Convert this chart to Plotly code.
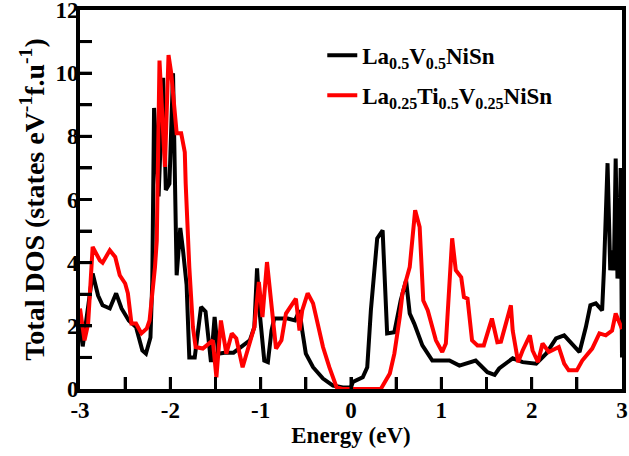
import plotly.graph_objects as go

# La0.5V0.5NiSn (black)
black_x = [-3.0, -2.97, -2.86, -2.8, -2.75, -2.67, -2.6, -2.54, -2.46, -2.38, -2.31, -2.27, -2.22, -2.2,
           -2.18, -2.13, -2.08, -2.05, -2.01, -1.97, -1.93, -1.89, -1.86, -1.82, -1.79, -1.73, -1.66,
           -1.61, -1.55, -1.51, -1.47, -1.4, -1.3, -1.2, -1.12, -1.07, -1.04, -1.01, -0.96, -0.92, -0.88,
           -0.85, -0.7, -0.62, -0.57, -0.54, -0.5, -0.42, -0.31, -0.2, -0.09, 0.0, 0.02, 0.13, 0.18, 0.22,
           0.26, 0.29, 0.35, 0.40, 0.48, 0.55, 0.61, 0.65, 0.70, 0.79, 0.90, 1.09, 1.2, 1.38, 1.51, 1.59,
           1.64, 1.79, 1.9, 2.05, 2.16, 2.27, 2.36, 2.53, 2.6, 2.65, 2.71, 2.78, 2.8, 2.84, 2.87, 2.89,
           2.91, 2.93, 2.95, 2.97, 2.985, 3.0]
black_y = [2.0, 1.35, 3.66, 2.96, 2.65, 2.55, 3.03, 2.55, 2.17, 1.96, 1.22, 1.12, 1.63, 3.4,
           8.9, 6.1, 9.85, 6.3, 6.5, 10.0, 3.6, 5.1, 4.4, 3.3, 1.0, 1.0, 2.6,
           2.45, 0.85, 2.28, 1.12, 1.15, 1.15, 1.35, 1.54, 1.96, 3.82, 2.39, 0.9, 0.85, 1.85,
           2.23, 2.23, 2.17, 2.49, 1.85, 1.12, 0.69, 0.33, 0.11, 0.05, 0.05, 0.22, 0.37, 0.69, 2.49,
           3.76, 4.77, 5.02, 1.76, 1.8, 2.8, 3.44, 2.39, 2.07, 1.38, 0.9, 0.9, 0.74, 0.9, 0.53, 0.45,
           0.65, 0.97, 0.85, 0.8, 1.12, 1.6, 1.7, 1.17, 1.96, 2.65, 2.71, 2.49, 3.76, 7.15, 3.76, 4.39,
           3.76, 7.3, 3.5, 3.8, 7.0, 1.0]

# La0.25Ti0.5V0.25NiSn (red)
red_x = [-3.0, -2.95, -2.91, -2.86, -2.78, -2.75, -2.67, -2.61, -2.56, -2.5, -2.47, -2.43, -2.38, -2.32,
         -2.26, -2.23, -2.17, -2.15, -2.12, -2.06, -2.02, -1.99, -1.93, -1.88, -1.84, -1.83, -1.79,
         -1.75, -1.72, -1.64, -1.53, -1.49, -1.44, -1.38, -1.32, -1.27, -1.2, -1.12, -1.07, -1.02,
         -0.98, -0.93, -0.88, -0.83, -0.77, -0.72, -0.61, -0.57, -0.54, -0.48, -0.42, -0.37, -0.31,
         -0.24, -0.16, -0.1, 0.0, 0.1, 0.2, 0.33, 0.43, 0.48, 0.54, 0.57, 0.65, 0.68, 0.71, 0.76, 0.80,
         0.85, 0.94, 1.01, 1.05, 1.09, 1.12, 1.16, 1.22, 1.25, 1.29, 1.34, 1.40, 1.47, 1.56, 1.62,
         1.66, 1.77, 1.79, 1.85, 1.9, 1.98, 2.01, 2.07, 2.12, 2.19, 2.3, 2.36, 2.41, 2.5, 2.56, 2.67,
         2.75, 2.82, 2.89, 2.93, 2.97, 3.0]
red_y = [2.55, 1.54, 2.07, 4.5, 4.07, 4.0, 4.39, 4.18, 3.6, 3.34, 3.03, 2.07, 2.07, 1.76,
         1.92, 2.17, 3.86, 4.7, 10.4, 7.03, 10.57, 10.0, 8.1, 8.1, 7.5, 6.5, 3.86,
         1.96, 1.33, 1.28, 1.54, 0.37, 2.17, 1.12, 1.76, 1.6, 0.69, 1.44, 1.96, 3.39,
         2.28, 4.02, 2.49, 1.28, 1.54, 2.39, 2.86, 1.85, 2.49, 3.03, 2.71, 2.07, 1.33,
         0.69, 0.06, 0.0, 0.0, 0.0, 0.0, 0.0, 0.49, 1.12, 2.28, 3.03, 3.86, 4.93, 5.66, 5.13, 2.8,
         2.49, 1.54, 1.17, 1.44, 3.34, 4.77, 3.76, 3.54, 2.91, 2.86, 1.54, 1.38, 1.38, 2.23, 1.48,
         1.5, 2.65, 1.85, 0.85, 1.22, 1.7, 1.22, 0.85, 1.44, 1.17, 1.33, 0.8, 0.59, 0.59, 0.9, 1.28,
         1.76, 1.7, 1.85, 2.39, 2.07, 1.9]

names = ["La<sub>0.5</sub>V<sub>0.5</sub>NiSn",
         "La<sub>0.25</sub>Ti<sub>0.5</sub>V<sub>0.25</sub>NiSn"]

x_tickvals = [-3, -2.5, -2, -1.5, -1, -0.5, 0, 0.5, 1, 1.5, 2, 2.5, 3]
x_ticklabels = ["-3", "", "-2", "", "-1", "", "0", "", "1", "", "2", "", "3"]
y_tickvals = [0, 1, 2, 3, 4, 5, 6, 7, 8, 9, 10, 11, 12]
y_ticklabels = ["0", "", "2", "", "4", "", "6", "", "8", "", "10", "", "12"]

FONT = "Liberation Serif"
W, H = 629, 456
ML, MR, MT, MB = 80, 7, 10, 67
XR = [-3, 3]
YR = [0, 12]
TICK_PX = 12


def bold(t):
    return f"<b>{t}</b>" if t else ""


fig = go.Figure()
fig.add_trace(go.Scatter(x=black_x, y=black_y, mode="lines", name=bold(names[0]), legendgroup="a",
                         line=dict(color="black", width=4)))
fig.add_trace(go.Scatter(x=red_x, y=red_y, mode="lines", name=bold(names[1]), legendgroup="b",
                         line=dict(color="#ff0000", width=4)))

# inside tick marks as shapes placed from the tick value lists
tick_dy = TICK_PX * (YR[1] - YR[0]) / (H - MT - MB)
tick_dx = TICK_PX * (XR[1] - XR[0]) / (W - ML - MR)
for v in x_tickvals[1:-1]:
    fig.add_shape(type="line", xref="x", yref="y", x0=v, x1=v, y0=YR[0], y1=YR[0] + tick_dy,
                  line=dict(color="black", width=3), layer="above")
for v in y_tickvals[1:-1]:
    fig.add_shape(type="line", xref="x", yref="y", x0=XR[0], x1=XR[0] + tick_dx, y0=v, y1=v,
                  line=dict(color="black", width=3), layer="above")

axis_common = dict(showline=True, linecolor="black", linewidth=4, mirror=True, showgrid=False,
                   zeroline=False, ticks="inside", ticklen=TICK_PX, tickwidth=3, tickcolor="black",
                   tickmode="array", showticklabels=True, ticklabeloverflow="allow",
                   tickfont=dict(family=FONT, size=23, color="black"))

fig.update_xaxes(range=XR, tickvals=x_tickvals, ticktext=[bold(t) for t in x_ticklabels],
                 ticklabelstandoff=-3,
                 title=dict(text="<b>Energy (eV)</b>", font=dict(family=FONT, size=23, color="black"),
                            standoff=2),
                 **axis_common)
fig.update_yaxes(range=YR, tickvals=y_tickvals, ticktext=[bold(t) for t in y_ticklabels],
                 ticklabelstandoff=-7,
                 title=dict(text="<b>Total DOS (states eV<sup>-1</sup>f.u<sup>-1</sup>)</b>",
                            font=dict(family=FONT, size=28, color="black"), standoff=4),
                 **axis_common)

fig.update_layout(
    template="none",
    width=W, height=H,
    margin=dict(l=ML, r=MR, t=MT, b=MB),
    plot_bgcolor="white", paper_bgcolor="white",
    legend=dict(x=0.447, y=0.937, xanchor="left", yanchor="top", bgcolor="rgba(0,0,0,0)",
                font=dict(family=FONT, size=23, color="black"),
                tracegroupgap=7, itemwidth=30),
    showlegend=True,
)

fig.write_html("out.html", config={"displayModeBar": False},
               post_script="document.body.style.margin='0px';")
